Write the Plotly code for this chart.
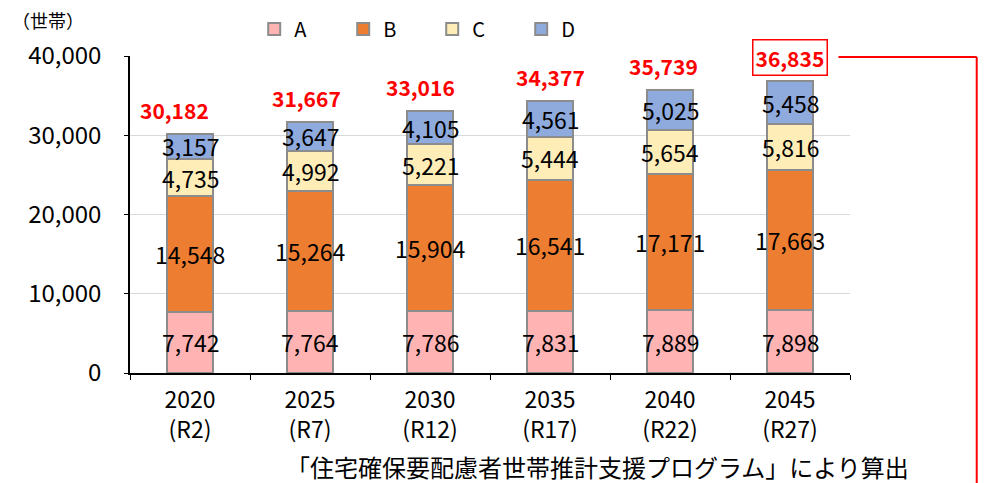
import plotly.graph_objects as go

categories = ["2020<br>(R2)", "2025<br>(R7)", "2030<br>(R12)", "2035<br>(R17)", "2040<br>(R22)", "2045<br>(R27)"]
series_names = ["A", "B", "C", "D"]
A = [7742, 7764, 7786, 7831, 7889, 7898]
B = [14548, 15264, 15904, 16541, 17171, 17663]
C = [4735, 4992, 5221, 5444, 5654, 5816]
D = [3157, 3647, 4105, 4561, 5025, 5458]
totals = [30182, 31667, 33016, 34377, 35739, 36835]
colors = ["#FFB3B3", "#ED7D31", "#FFEDB8", "#8FAADC"]

FONT = "Noto Sans CJK JP"
total_xshift = [-16, -4, -10, 0, -7, 0]

fig = go.Figure()
series = [A, B, C, D]
for name, vals, col in zip(series_names, series, colors):
    fig.add_trace(go.Bar(
        x=categories, y=vals, name=name,
        marker=dict(color=col, line=dict(color="#8C8C8C", width=2)),
        width=0.39,
    ))

annotations = []
base = [0] * len(categories)
for vals in series:
    for i, v in enumerate(vals):
        annotations.append(dict(
            x=categories[i], y=base[i] + v / 2, text=f"{v:,}", showarrow=False,
            font=dict(family=FONT, size=23, color="black"), xref="x", yref="y"))
        base[i] += v

for i, t in enumerate(totals):
    last = i == len(totals) - 1
    annotations.append(dict(
        x=categories[i], y=t, yshift=24, xshift=total_xshift[i], text=f"<b>{t:,}</b>",
        showarrow=False,
        font=dict(family=FONT, size=21, color="#FF0000"),
        bordercolor="#FF0000" if last else None, borderwidth=1.5 if last else 0,
        borderpad=2, xref="x", yref="y"))

annotations.append(dict(x=-0.167, y=1.115, xref="paper", yref="paper", xanchor="left",
                        yanchor="middle", text="（世帯）", showarrow=False,
                        font=dict(family=FONT, size=18, color="black")))
annotations.append(dict(x=0.649, y=-0.295, xref="paper", yref="paper", yanchor="middle",
                        text="「住宅確保要配慮者世帯推計支援プログラム」により算出", showarrow=False,
                        font=dict(family=FONT, size=24, color="black")))

shapes = [
    dict(type="line", xref="paper", yref="paper", x0=0.984, x1=1.176, y0=0.997, y1=0.997,
         line=dict(color="#FF0000", width=2)),
    dict(type="line", xref="paper", yref="paper", x0=1.176, x1=1.176, y0=0.997, y1=-0.40,
         line=dict(color="#FF0000", width=2)),
]

fig.update_layout(
    barmode="stack",
    width=985, height=475,
    margin=dict(l=122, r=143, t=48, b=110, autoexpand=False),
    plot_bgcolor="white", paper_bgcolor="white",
    font=dict(family=FONT, size=20, color="black"),
    annotations=annotations,
    shapes=shapes,
    bargap=0.61,
    legend=dict(orientation="h", x=0.1725, y=1.085, xanchor="left", yanchor="middle",
                font=dict(family=FONT, size=20), entrywidth=44, traceorder="normal",
                bgcolor="rgba(0,0,0,0)"),
)
fig.update_yaxes(range=[0, 40000], tickvals=[0, 10000, 20000, 30000, 40000],
                 ticktext=["0", "10,000", "20,000", "30,000", "40,000"],
                 showgrid=True, gridcolor="#D9D9D9", gridwidth=1,
                 showline=True, linecolor="black", linewidth=1.5,
                 ticks="outside", ticklen=4, tickcolor="black",
                 ticklabelstandoff=18, zeroline=False,
                 tickfont=dict(family=FONT, size=24))
fig.update_xaxes(showline=True, linecolor="black", linewidth=1.5,
                 ticks="outside", tickson="boundaries", ticklen=5, tickcolor="black",
                 ticklabelstandoff=6,
                 tickfont=dict(family=FONT, size=23), showgrid=False)

fig.write_html("out.html")
